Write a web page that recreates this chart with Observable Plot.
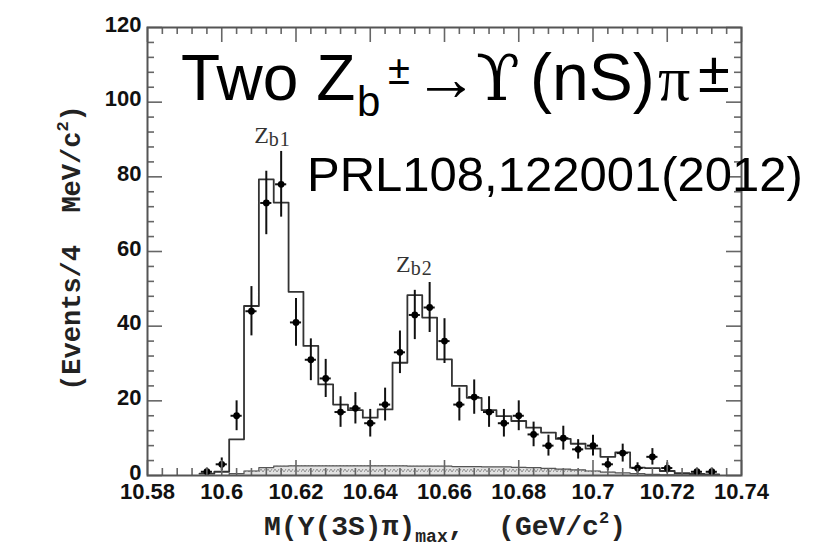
<!DOCTYPE html>
<html><head><meta charset="utf-8">
<script src="https://cdn.jsdelivr.net/npm/d3@7"></script>
<script src="https://cdn.jsdelivr.net/npm/@observablehq/plot@0.6"></script>
<style>
html,body{margin:0;padding:0;background:#fff;}
#chart{position:relative;width:824px;height:549px;}
</style></head><body><div id="chart"></div>
<script>
// ---- data ----
const pointX = [10.596,10.600,10.604,10.608,10.612,10.616,10.620,10.624,10.628,10.632,10.636,10.640,10.644,10.648,10.652,10.656,10.660,10.664,10.668,10.672,10.676,10.680,10.684,10.688,10.692,10.696,10.700,10.704,10.708,10.712,10.716,10.720,10.728,10.732];
const pointY = [1,3,16,44,73,78,41,31,26,17,18,14,19,33,43,45,36,19,21,17,14,16,11,8,10,7,8,3,6,2,5,2,1,1];
const pointErr = [1,1.7,4,6.6,8.5,8.8,6.4,5.6,5.1,4.1,4.2,3.7,4.4,5.7,6.6,6.7,6,4.4,4.6,4.1,3.7,4,3.3,2.8,3.2,2.6,2.8,1.7,2.4,1.4,2.2,1.4,1,1];

const binCenters = [10.596,10.600,10.604,10.608,10.612,10.616,10.620,10.624,10.628,10.632,10.636,10.640,10.644,10.648,10.652,10.656,10.660,10.664,10.668,10.672,10.676,10.680,10.684,10.688,10.692,10.696,10.700,10.704,10.708,10.712,10.716,10.720,10.724,10.728,10.732];
const fitY = [0.5,1,9.7,45.4,79.3,73.1,49.2,34.7,24.4,19,17.5,15.5,17.7,30.2,48.3,42.3,31.1,24,20.8,17.5,15.9,14.6,12.8,11.5,9.8,8.5,7.2,5,6.2,2.1,2,1.2,0.6,0.4,0.3];
const bgY = [0,0,0.5,1.2,2.1,2.5,2.6,2.6,2.6,2.6,2.6,2.6,2.6,2.6,2.5,2.5,2.5,2.4,2.4,2.3,2.3,2.2,2.1,1.9,1.7,1.5,1.2,0.9,0.7,0.5,0.3,0.2,0.1,0,0];

const xTicks = [10.58,10.60,10.62,10.64,10.66,10.68,10.70,10.72,10.74];
const xTickLabels = ["10.58","10.6","10.62","10.64","10.66","10.68","10.7","10.72","10.74"];
const yTicks = [0,20,40,60,80,100,120];
const yTickLabels = ["0","20","40","60","80","100","120"];
const xMinorStep = 0.004;
const yMinorStep = 4;

// ---- layout ----
const W = 824, Hh = 549;
const mL = 147, mR = 83, mT = 27, mB = 74;
const xDom = [10.58, 10.74], yDom = [0, 120];
const pxPerX = (W - mL - mR) / (xDom[1] - xDom[0]);
const pxPerY = (Hh - mT - mB) / (yDom[1] - yDom[0]);
const majLen = 15, minLen = 7;
const halfBin = 0.002;

const points = pointX.map((x, i) => ({x, y: pointY[i], e: pointErr[i]}));
const fitSteps = binCenters.map((c, i) => ({x: c - halfBin, y: fitY[i]}));
fitSteps.push({x: binCenters[binCenters.length - 1] + halfBin, y: fitY[fitY.length - 1]});
const bgSteps = binCenters.map((c, i) => ({x: c - halfBin, y: bgY[i]}));
bgSteps.push({x: binCenters[binCenters.length - 1] + halfBin, y: bgY[bgY.length - 1]});

const xMinor = d3.range(0, Math.round((xDom[1]-xDom[0])/xMinorStep) + 1).map(i => +(xDom[0] + i*xMinorStep).toFixed(3)).filter(v => !xTicks.some(t => Math.abs(t - v) < 1e-6));
const yMinor = d3.range(yDom[0], yDom[1] + 1, yMinorStep).filter(v => !yTicks.includes(v));

const tickStroke = "#666";
const plot = Plot.plot({
  width: W, height: Hh,
  marginLeft: mL, marginRight: mR, marginTop: mT, marginBottom: mB,
  x: {domain: xDom, label: null},
  y: {domain: yDom, label: null},
  style: {fontFamily: "Liberation Sans, Arial, sans-serif", background: "white"},
  marks: [
    Plot.areaY(bgSteps, {x: "x", y: "y", curve: "step-after", fill: "url(#hatch)"}),
    Plot.lineY(bgSteps, {x: "x", y: "y", curve: "step-after", stroke: "#555", strokeWidth: 1.2}),
    Plot.lineY(fitSteps, {x: "x", y: "y", curve: "step-after", stroke: "#333", strokeWidth: 1.8}),
    Plot.ruleX(points, {x: "x", y1: d => d.y - d.e, y2: d => d.y + d.e, stroke: "#111", strokeWidth: 2}),
    Plot.ruleY(points, {y: "y", x1: d => d.x - 0.0015, x2: d => d.x + 0.0015, stroke: "#111", strokeWidth: 2}),
    Plot.dot(points, {x: "x", y: "y", r: 3.4, fill: "#000", stroke: "none"}),
    // inward ticks: bottom & top
    Plot.ruleX(xTicks, {x: d => d, y1: yDom[0], y2: yDom[0] + majLen / pxPerY, stroke: tickStroke, strokeWidth: 1.6}),
    Plot.ruleX(xMinor, {x: d => d, y1: yDom[0], y2: yDom[0] + minLen / pxPerY, stroke: tickStroke, strokeWidth: 1.6}),
    Plot.ruleX(xTicks, {x: d => d, y1: yDom[1] - majLen / pxPerY, y2: yDom[1], stroke: tickStroke, strokeWidth: 1.6}),
    Plot.ruleX(xMinor, {x: d => d, y1: yDom[1] - minLen / pxPerY, y2: yDom[1], stroke: tickStroke, strokeWidth: 1.6}),
    // inward ticks: left & right
    Plot.ruleY(yTicks, {y: d => d, x1: xDom[0], x2: xDom[0] + majLen / pxPerX, stroke: tickStroke, strokeWidth: 1.6}),
    Plot.ruleY(yMinor, {y: d => d, x1: xDom[0], x2: xDom[0] + minLen / pxPerX, stroke: tickStroke, strokeWidth: 1.6}),
    Plot.ruleY(yTicks, {y: d => d, x1: xDom[1] - majLen / pxPerX, x2: xDom[1], stroke: tickStroke, strokeWidth: 1.6}),
    Plot.ruleY(yMinor, {y: d => d, x1: xDom[1] - minLen / pxPerX, x2: xDom[1], stroke: tickStroke, strokeWidth: 1.6}),
    Plot.frame({stroke: "#555", strokeWidth: 2}),
    Plot.axisX(xTicks, {tickSize: 0, tickPadding: 8, tickFormat: d => xTickLabels[xTicks.indexOf(d)], fontSize: 22, fontWeight: "bold", fill: "#111", fontFamily: "Liberation Sans"}),
    Plot.axisY(yTicks, {tickSize: 0, tickPadding: 6, dy: -3, tickFormat: d => yTickLabels[yTicks.indexOf(d)], fontSize: 22, fontWeight: "bold", fill: "#111", fontFamily: "Liberation Sans"})
  ]
});

const svg = d3.select(plot);
// hatch pattern for the background component
const defs = svg.insert("defs", ":first-child");
const pat = defs.append("pattern").attr("id", "hatch").attr("patternUnits", "userSpaceOnUse").attr("width", 7).attr("height", 6);
pat.append("rect").attr("width", 7).attr("height", 6).attr("fill", "#e2e2e2");
pat.append("path").attr("d", "M0,4 L2,1 L4,4 L6,1").attr("stroke", "#909090").attr("stroke-width", 1).attr("fill", "none");

const sx = plot.scale("x"), sy = plot.scale("y");
// peak labels
function peakLabel(xv, yv, sub) {
  const t = svg.append("text").attr("x", sx.apply(xv)).attr("y", sy.apply(yv))
    .attr("font-family", "Liberation Serif, serif").attr("fill", "#333").attr("font-size", 24).attr("text-anchor", "middle");
  t.append("tspan").text("Z");
  t.append("tspan").attr("font-size", 20).attr("dy", 3).attr("letter-spacing", 1).text(sub);
}
peakLabel(10.6138, 89, "b1");
peakLabel(10.6520, 54.5, "b2");

// big title
const title = svg.append("text").attr("x", 181).attr("y", 100).attr("text-anchor", "start")
  .attr("font-family", "Liberation Sans, Arial, sans-serif").attr("font-size", 64).attr("fill", "#000");
title.append("tspan").text("Two Z");
title.append("tspan").attr("font-size", 42).attr("x", 357).attr("y", 116).text("b");
title.append("tspan").attr("font-size", 40).attr("x", 388).attr("y", 84).text("±");
title.append("tspan").attr("x", 414).attr("y", 100).text("→");
title.append("tspan").attr("font-family", "DejaVu Serif, serif").attr("x", 476).text("ϒ");
title.append("tspan").attr("x", 530).attr("font-size", 66).text("(nS)");
title.append("tspan").attr("font-family", "Liberation Serif, serif").attr("x", 658).text("π");
title.append("tspan").attr("font-size", 58).attr("x", 698).attr("y", 92).text("±");

svg.append("text").attr("x", 307).attr("y", 191).attr("text-anchor", "start")
  .attr("font-family", "Liberation Sans, Arial, sans-serif").attr("font-size", 49).attr("fill", "#000")
  .text("PRL108,122001(2012)");

// axis titles
const yt = svg.append("text").attr("transform", "translate(80,248) rotate(-90)").attr("text-anchor", "middle")
  .attr("font-family", "Liberation Mono, monospace").attr("font-weight", "bold").attr("font-size", 27).attr("fill", "#222");
yt.append("tspan").text("(Events/4  MeV/c");
yt.append("tspan").attr("font-size", 17).attr("dy", -12).text("2");
yt.append("tspan").attr("dy", 12).text(")");

const xt = svg.append("text").attr("x", 445).attr("y", 535).attr("text-anchor", "middle")
  .attr("font-family", "Liberation Mono, monospace").attr("font-weight", "bold").attr("font-size", 28).attr("fill", "#222");
xt.append("tspan").text("M(Υ(3S)π)");
xt.append("tspan").attr("font-size", 18).attr("dy", 7).text("max");
xt.append("tspan").attr("dy", -7).text(",  (GeV/c");
xt.append("tspan").attr("font-size", 17).attr("dy", -12).text("2");
xt.append("tspan").attr("dy", 12).text(")");

document.getElementById("chart").appendChild(plot);
</script></body></html>
